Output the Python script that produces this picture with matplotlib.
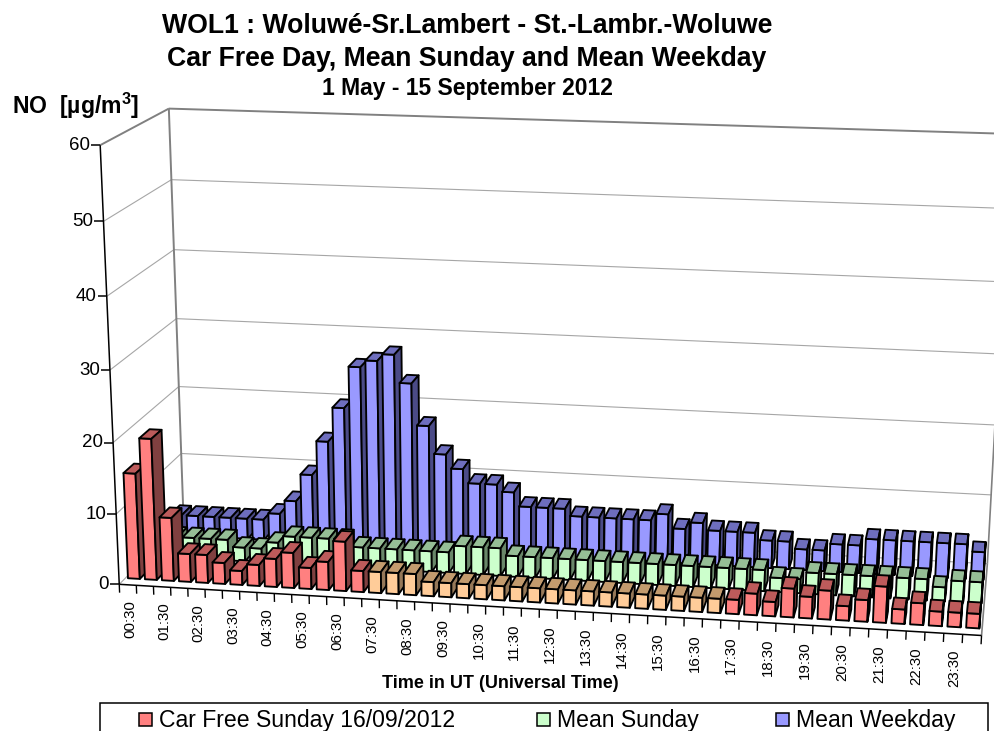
'''
NO concentration on car free day, 3D style bars drawn with a small perspective projection
'''
import numpy as np
import matplotlib
matplotlib.use('Agg')
import matplotlib.pyplot as plt
from matplotlib.patches import Polygon, Rectangle

plt.rcParams['font.family'] = ['Liberation Sans', 'DejaVu Sans']
plt.rcParams['mathtext.fontset'] = 'custom'
plt.rcParams['mathtext.bf'] = 'Liberation Sans:bold'

# half hour slots, every second one is labelled
slot_labels = ['%02d:30' % h for h in range(24)]

car_free = [15, 20, 9, 4, 4, 3, 2, 3, 4, 5, 3, 4, 7, 3,
            3, 3, 3, 2, 2, 2, 2, 2, 2, 2, 2, 2, 2, 2, 2, 2, 2, 2, 2, 2,
            2, 3, 2, 4, 3, 4, 2, 3, 5, 2, 3, 2, 2, 2]
mean_sunday = [3, 3, 3, 3, 3, 2, 2, 3, 4, 4, 4, 4,
               3, 3, 3, 3, 3, 3, 4, 4, 4, 3, 3, 3,
               3, 3, 3, 3, 3, 3, 3, 3, 3, 3, 3, 3,
               2, 2, 3, 3, 3, 3, 3, 3, 3, 2, 3, 3]
mean_weekday = [3, 3, 3, 3, 3, 3, 4, 6, 10, 15, 20, 26,
                27, 28, 24, 18, 14, 12, 10, 10, 9, 7, 7, 7,
                6, 6, 6, 6, 6, 7, 5, 6, 5, 5, 5, 4,
                4, 3, 3, 4, 4, 5, 5, 5, 5, 5, 5, 4]
y_ticks = [0, 10, 20, 30, 40, 50, 60]

# car free hours are the orange bars
car_free_start = 14
car_free_end = 34

# (face, top, side) colours
RED = ('#FF8080', '#BD5B5B', '#804040')
ORANGE = ('#FFCC99', '#C39B6E', '#967858')
GREEN = ('#CCFFCC', '#96BE96', '#698769')
BLUE = ('#9999FF', '#6E6EBE', '#4B4B87')

n_slots = len(car_free)

# camera calibration: (slot, depth, value) -> image pixel
world = np.array([(0, 0, 0), (0, 0, 60), (0, 1, 0), (0, 1, 60), (0, 1, 10),
                  (48, 0, 0), (48, 1, 0), (48, 1, 60), (48, 1, 10)], float)
pixel = np.array([(119, 584), (100, 146), (184, 520), (169, 108), (181, 453),
                  (982, 635), (987, 565), (1011, 134), (991, 494)], float)


def calibrate(world, pixel):
    ''' least squares projective matrix '''
    rows = []
    rhs = []
    for (a, b, c), (u, v) in zip(world, pixel):
        rows.append([a, b, c, 1, 0, 0, 0, 0, -u * a, -u * b, -u * c])
        rows.append([0, 0, 0, 0, a, b, c, 1, -v * a, -v * b, -v * c])
        rhs += [u, v]
    sol = np.linalg.lstsq(np.array(rows), np.array(rhs), rcond=None)[0]
    return np.append(sol, 1.0).reshape(3, 4)


cam = calibrate(world, pixel)


def proj(t, d, v):
    p = cam @ np.array([t, d, v, 1.0])
    return p[0] / p[2], p[1] / p[2]


fig = plt.figure(figsize=(9.94, 7.31), dpi=100)
ax = fig.add_axes([0, 0, 1, 1])
ax.set_xlim(0, 994)
ax.set_ylim(731, 0)
ax.axis('off')


def seg(p0, p1, color, lw, z=1):
    ax.plot([p0[0], p1[0]], [p0[1], p1[1]], color=color, lw=lw, zorder=z,
            solid_capstyle='butt')


# walls and gridlines
GRID = '#A6A6A6'
WALL = '#808080'
for val in y_ticks:
    lw = 1.4 if val == 60 else 0.8
    col = WALL if val == 60 else GRID
    seg(proj(0, 0, val), proj(0, 1, val), col, lw)
    seg(proj(0, 1, val), proj(n_slots, 1, val), col, lw)
seg(proj(0, 1, 0), proj(0, 1, 60), WALL, 1.4)
seg(proj(n_slots, 1, 0), proj(n_slots, 1, 60), WALL, 1.2)
seg(proj(n_slots, 0, 0), proj(n_slots, 1, 0), WALL, 1.2)


def draw_bar(i, row, val, cols, z):
    t0, t1 = i + 0.15, i + 0.85
    d0, d1 = (row + 0.27) / 3, (row + 0.73) / 3
    face = [proj(t0, d0, 0), proj(t1, d0, 0), proj(t1, d0, val), proj(t0, d0, val)]
    side = [proj(t1, d0, 0), proj(t1, d1, 0), proj(t1, d1, val), proj(t1, d0, val)]
    top = [proj(t0, d0, val), proj(t1, d0, val), proj(t1, d1, val), proj(t0, d1, val)]
    for poly, col in zip((face, top, side), cols):
        ax.add_patch(Polygon(poly, closed=True, facecolor=col, edgecolor='black',
                             lw=1.35, joinstyle='round', zorder=z))


# back row first, left to right inside a row
z = 2
for i, val in enumerate(mean_weekday):
    draw_bar(i, 2, val, BLUE, z)
    z += 1
for i, val in enumerate(mean_sunday):
    draw_bar(i, 1, val, GREEN, z)
    z += 1
for i, val in enumerate(car_free):
    cols = ORANGE if car_free_start <= i < car_free_end else RED
    draw_bar(i, 0, val, cols, z)
    z += 1

# axes in front
seg(proj(0, 0, 0), proj(0, 0, 60), 'black', 1.1, z)
seg(proj(0, 0, 0), proj(n_slots, 0, 0), 'black', 1.1, z)
for val in y_ticks:
    x, y = proj(0, 0, val)
    seg((x - 9, y), (x, y), 'black', 1.1, z)
    ax.text(x - 10, y, str(val), ha='right', va='center', fontsize=13.5, color='black')
for t in range(n_slots + 1):
    seg(proj(t, 0, 0), proj(t, 0, -1.2), 'black', 1.0, z)
for h, lab in enumerate(slot_labels):
    x, y = proj(2 * h + 0.6, 0, -2.2)
    ax.text(x, y, lab, rotation=90, ha='center', va='top', fontsize=10.8)

# titles
ax.text(467, 26, 'WOL1 : Woluwé-Sr.Lambert - St.-Lambr.-Woluwe', ha='center', va='center',
        fontsize=19.2, fontweight='bold')
ax.text(467, 59, 'Car Free Day, Mean Sunday and Mean Weekday', ha='center', va='center',
        fontsize=19.2, fontweight='bold')
ax.text(467, 89, '1 May - 15 September 2012', ha='center', va='center',
        fontsize=16.5, fontweight='bold')
ax.text(12, 106, r'NO  [µg/m$\mathbf{^3}$]', ha='left', va='center', fontsize=16.6,
        fontweight='bold')
ax.text(500, 684, 'Time in UT (Universal Time)', ha='center', va='center', fontsize=13,
        fontweight='bold')

# legend box runs past the bottom of the picture
ax.add_patch(Rectangle((100, 703), 888, 60, facecolor='white', edgecolor='black', lw=1.1,
                       zorder=z))
legend_names = ['Car Free Sunday 16/09/2012', 'Mean Sunday', 'Mean Weekday']
legend_x = [139, 537, 776]
legend_cols = [RED[0], GREEN[0], BLUE[0]]
for x, name, col in zip(legend_x, legend_names, legend_cols):
    ax.add_patch(Rectangle((x, 713), 13, 13, facecolor=col, edgecolor='black', lw=1.1,
                           zorder=z + 1))
    ax.text(x + 20, 721, name, ha='left', va='center', fontsize=16.6, zorder=z + 1)

fig.savefig('out.png', dpi=100)
